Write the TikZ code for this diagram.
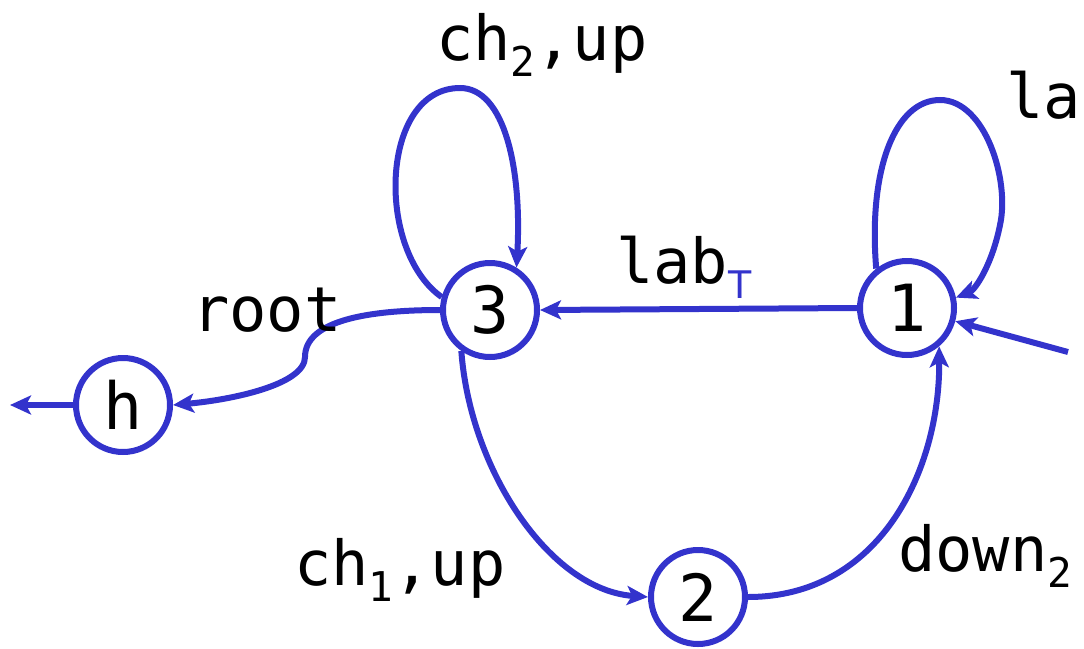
\documentclass[tikz,border=0pt]{standalone}
\usepackage{fontspec}
\setmainfont{DejaVu Sans Mono}
\newfontfamily\tsans{DejaVu Sans}
\usetikzlibrary{arrows.meta}
\definecolor{edgeblue}{RGB}{51,51,204}
\newcommand{\lsub}[1]{\raisebox{-16pt}{\fontsize{41}{41}\selectfont #1}}
\begin{document}
\begin{tikzpicture}[x=1pt,y=-1pt,
  state/.style={circle, draw=edgeblue, line width=6pt, minimum size=94pt, inner sep=0pt, fill=white, font=\fontsize{65}{65}\selectfont},
  edge/.style={draw=edgeblue, line width=6pt, -{Stealth[length=21pt,width=19pt,inset=5pt]}},
  lbl/.style={anchor=base west, inner sep=0pt, font=\fontsize{62}{62}\selectfont}]
\useasboundingbox (0,0) rectangle (1084,648);
\clip (0,0) rectangle (1084,648);

\node[state] (n3) at (490,310) {3};
\node[state] (n1) at (907,308) {1};
\node[state] (n2) at (698,597) {2};
\node[state] (nh) at (123,405) {h};
\coordinate (inR) at (1068,352);
\coordinate (outL) at (10,405);

% edges
\draw[edge] (n1.west) -- (n3.east);
\draw[edge] (n3.165) .. controls (375,250) and (380,88) .. (460,88) .. controls (505,88) and (522,170) .. (n3.58);
\draw[edge] (n1.128) .. controls (868,170) and (895,100) .. (940,100) .. controls (985,100) and (1010,180) .. (1000,225) .. controls (992,265) and (975,290) .. (n1.12);
\draw[edge] (inR) -- (n1);
\draw[edge] (n3.235) .. controls (470,470) and (550,590) .. (n2.west);
\draw[edge] (n2.east) .. controls (880,597) and (940,470) .. (n1.-50);
\draw[edge] (n3.180) .. controls (370,310) and (305,320) .. (305,357) .. controls (305,385) and (230,400) .. (nh.east);
\draw[edge] (nh.west) -- (outL);

% labels
\node[lbl] (l13) at (616,283) {lab{\color{edgeblue}\tsans\raisebox{-15pt}{\fontsize{38}{38}\selectfont T}}};
\node[lbl] (l33) at (436,60) {ch\lsub{2},up};
\node[lbl] (l11) at (1006,118) {la};
\node[lbl] (l32) at (294,585) {ch\lsub{1},up};
\node[lbl] (l21) at (898,571) {down\lsub{2}};
\node[lbl] (l3h) at (192,331) {root};
\end{tikzpicture}
\end{document}
